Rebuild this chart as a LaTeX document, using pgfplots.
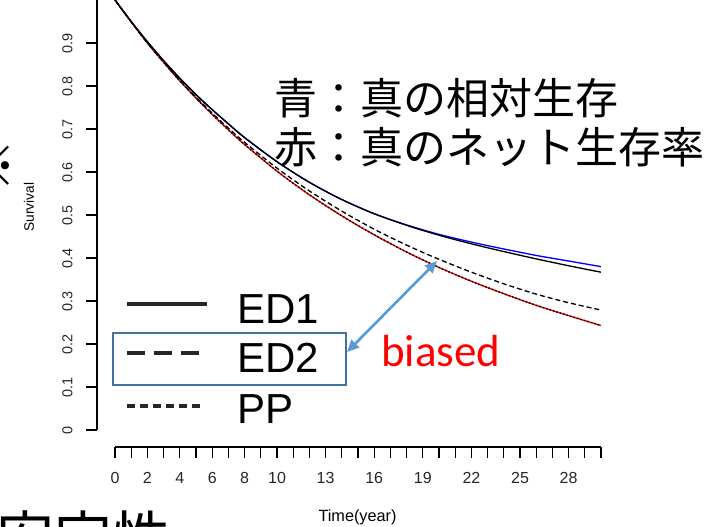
\documentclass[border=0pt]{standalone}
\usepackage{fontspec}
\usepackage{pgfplots}
\pgfplotsset{compat=1.18}
\usetikzlibrary{arrows.meta}
\setmainfont{Liberation Sans}
\newfontfamily\cjk{Noto Sans CJK JP}
\newfontfamily\calibrifont{Carlito}
\definecolor{boxblue}{HTML}{41719C}
\definecolor{arrowblue}{HTML}{5B9BD5}
\begin{document}
\begin{tikzpicture}
\useasboundingbox (0pt,0pt) rectangle (531.75pt,-394.5pt);
\clip (0pt,0pt) rectangle (531.75pt,-394.5pt);
\begin{axis}[
  at={(86.25pt,-322.5pt)}, anchor=south west,
  scale only axis, width=364.5pt, height=322.5pt,
  xmin=0, xmax=30, ymin=0, ymax=1,
  axis lines*=left,
  axis x line shift=12.75pt, axis y line shift=13.5pt,
  axis line style={line width=0.8pt, black},
  tick style={line width=0.8pt, black},
  tick align=outside, major tick length=8pt,
  xtick={0,...,30},
  xticklabels={0,,2,,4,,6,,8,,10,,,13,,,16,,,19,,,22,,,25,,,28,,},
  ytick={0,0.1,0.2,0.3,0.4,0.5,0.6,0.7,0.8,0.9},
  yticklabels={0,0.1,0.2,0.3,0.4,0.5,0.6,0.7,0.8,0.9},
  xticklabel style={font=\fontsize{12}{12}\selectfont, text=black!85},
  yticklabel style={font=\fontsize{10.8}{10.8}\selectfont, rotate=90, anchor=south, text=black!85},
  xticklabel shift=7.5pt, yticklabel shift=6.75pt,
  /pgf/number format/assume math mode=true,
  xlabel={Time(year)},
  xlabel style={at={(axis description cs:0.499,-0.2116)}, anchor=base, font=\fontsize{12.2}{12.2}\selectfont, inner sep=0pt},
  ylabel={Survival},
  ylabel style={at={(axis description cs:-0.177,0.5186)}, anchor=center, font=\fontsize{10.3}{10.3}\selectfont},
  clip=false,
]
% blue: true relative survival
\addplot[blue, line width=1pt, smooth] coordinates {
(0,1) (1,0.950) (2,0.903) (3,0.859) (4,0.818) (5,0.780) (6,0.745) (7,0.712) (8,0.680) (10,0.624) (12,0.576) (14,0.536) (16,0.503) (18,0.477) (20,0.455) (22,0.437) (24,0.421) (26,0.406) (28,0.393) (30,0.380)};
% red: true net survival
\addplot[red, line width=1pt, smooth] coordinates {
(0,1) (1,0.949) (2,0.900) (3,0.855) (4,0.812) (5,0.772) (6,0.734) (7,0.698) (8,0.664) (10,0.602) (12,0.547) (14,0.498) (16,0.454) (18,0.414) (20,0.378) (22,0.346) (24,0.317) (26,0.290) (28,0.266) (30,0.243)};
% ED1
\addplot[black, line width=1pt, smooth] coordinates {
(0,1) (1,0.950) (2,0.903) (3,0.859) (4,0.818) (5,0.780) (6,0.745) (7,0.712) (8,0.680) (10,0.624) (12,0.576) (14,0.536) (16,0.503) (18,0.476) (20,0.453) (22,0.433) (24,0.415) (26,0.398) (28,0.382) (30,0.367)};
% ED2
\addplot[black, line width=1pt, smooth, dash pattern=on 3.75pt off 2.25pt] coordinates {
(0,1) (1,0.949) (2,0.900) (3,0.856) (4,0.813) (5,0.774) (6,0.737) (7,0.702) (8,0.669) (10,0.609) (12,0.556) (14,0.509) (16,0.467) (18,0.430) (20,0.397) (22,0.367) (24,0.340) (26,0.316) (28,0.296) (30,0.279)};
% PP
\addplot[black, line width=1pt, smooth, dash pattern=on 1.2pt off 1.5pt] coordinates {
(0,1) (1,0.949) (2,0.900) (3,0.855) (4,0.812) (5,0.772) (6,0.734) (7,0.698) (8,0.664) (10,0.602) (12,0.547) (14,0.498) (16,0.454) (18,0.414) (20,0.378) (22,0.346) (24,0.317) (26,0.290) (28,0.266) (30,0.243)};
\end{axis}
\begin{scope}[x=0.75pt, y=-0.75pt]
  % legend samples
  \draw[black!85, line width=3pt] (127,304) -- (207,304);
  \draw[black!85, line width=3pt, dash pattern=on 13.5pt off 6.75pt] (127,352.7) -- (200,352.7);
  \draw[black!85, line width=3pt, dash pattern=on 6pt off 3.75pt] (127,406) -- (203,406);
  \begin{scope}[every node/.style={anchor=base west, inner sep=0pt, font=\fontsize{31.5}{31.5}\selectfont}]
    \node at (237,323) {ED1};
    \node at (237,372) {ED2};
    \node at (237,423) {PP};
  \end{scope}
  \draw[boxblue, line width=1.5pt] (113,333) rectangle (345.7,385);
  \draw[arrowblue, line width=2pt, {Triangle[length=9pt,width=8pt]}-{Triangle[length=9pt,width=8pt]}] (347,352) -- (437,261);
  \node[anchor=base west, inner sep=0pt, text=red, font=\calibrifont\fontsize{33.75}{33.75}\selectfont] at (381,366.7) {biased};
  \node[anchor=base west, inner sep=0pt, font=\cjk\fontsize{32.25}{32.25}\selectfont] at (274,114) {青：真の相対生存};
  \node[anchor=base west, inner sep=0pt, font=\cjk\fontsize{32.25}{32.25}\selectfont] at (274,163) {赤：真のネット生存率};
  \node[anchor=base, inner sep=0pt, font=\cjk\fontsize{41}{41}\selectfont] at (-10,186) {※};
  \node[anchor=base west, inner sep=0pt, font=\cjk\fontsize{43.5}{43.5}\selectfont] at (-4,559) {安定性};
\end{scope}
\end{tikzpicture}
\end{document}
